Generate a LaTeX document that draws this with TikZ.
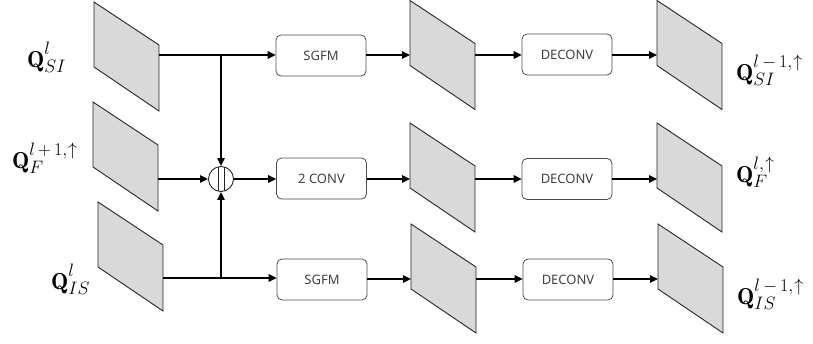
\RequirePackage{fix-cm}
\documentclass[tikz,border=0pt]{standalone}
\usepackage{fontspec}
\usetikzlibrary{arrows.meta}
\newfontfamily\opfont{Noto Sans}
\definecolor{featgray}{HTML}{D9D9D9}
\DeclareMathSizes{23}{23}{18}{13}

% slanted feature map: name, left x, top y, row of the connectors
\newcommand\featmap[4]{%
  \draw[feat] (#2,#3) -- (#2+65,#3+43) -- (#2+65,#3+109) -- (#2,#3+65) -- cycle;
  \coordinate (#1w) at (#2,#4);
  \coordinate (#1e) at (#2+65,#4);
}
% bold Q with raised superscript and subscript
\newcommand\qmap[2]{$\mathbf{Q}^{\raisebox{4.5pt}{$\scriptstyle #1$}}_{#2}$}

\tikzset{
  feat/.style={fill=featgray, draw=black!85, line width=0.9pt},
  opbox/.style={draw=black!70, rounded corners=5pt, minimum width=90pt,
    minimum height=41pt, inner sep=0pt, text=black!75, line width=0.8pt,
    font={\opfont\fontsize{13}{15}\selectfont}},
  flow/.style={-{Triangle[length=8pt,width=7.5pt]}, line width=1.5pt},
  qlab/.style={anchor=base west, inner sep=0pt, font={\fontsize{23}{27}\selectfont}},
}

\begin{document}
\begin{tikzpicture}[x=1pt, y=-1pt]
\useasboundingbox (0,0) rectangle (813,343);

% feature maps
\featmap{L1}{94}{2}{55}
\featmap{L2}{93}{102}{179}
\featmap{L3}{98}{202}{278}
\featmap{M1}{410}{0.5}{55}
\featmap{M2}{410}{123}{179}
\featmap{M3}{411}{224}{279}
\featmap{R1}{657}{0.5}{55}
\featmap{R2}{657}{123}{179}
\featmap{R3}{658}{224}{279}

% operation boxes
\node[opbox] (sg1) at (321,55.5) {SGFM};
\node[opbox] (conv) at (321.5,178.5) {2 CONV};
\node[opbox] (sg3) at (322,279.5) {SGFM};
\node[opbox] (dc1) at (567,54.5) {DECONV};
\node[opbox] (dc2) at (567,179) {DECONV};
\node[opbox] (dc3) at (568,279.5) {DECONV};

% concatenation
\node[circle, draw=black!85, line width=0.9pt, minimum size=25pt, inner sep=0pt] (cat) at (221,179) {};
\draw[line width=0.9pt, black!85] ([xshift=-3pt,yshift=12.1pt]cat.center) -- ([xshift=-3pt,yshift=-12.1pt]cat.center);
\draw[line width=0.9pt, black!85] ([xshift=3pt,yshift=12.1pt]cat.center) -- ([xshift=3pt,yshift=-12.1pt]cat.center);

\coordinate (j1) at (221,55);
\coordinate (j3) at (221,278);

% connectors
\draw[flow] (L1e) -- (L1e -| sg1.west);
\draw[flow] (L3e) -- (L3e -| sg3.west);
\draw[flow] (j1) -- (cat.north);
\draw[flow] (j3) -- (cat.south);
\draw[flow] (L2e) -- (cat.west);
\draw[flow] (cat.east) -- (cat.east -| conv.west);

\draw[flow] (sg1.east |- M1w) -- (M1w);
\draw[flow] (conv.east |- M2w) -- (M2w);
\draw[flow] (sg3.east |- M3w) -- (M3w);

\draw[flow] (M1e) -- (M1e -| dc1.west);
\draw[flow] (M2e) -- (M2e -| dc2.west);
\draw[flow] (M3e) -- (M3e -| dc3.west);

\draw[flow] (dc1.east |- R1w) -- (R1w);
\draw[flow] (dc2.east |- R2w) -- (R2w);
\draw[flow] (dc3.east |- R3w) -- (R3w);

% labels
\node[qlab] (q1) at (27,67) {\qmap{l}{SI}};
\node[qlab] (q2) at (12,168) {\qmap{l\mkern3mu+\mkern3mu1,\mkern1mu\uparrow}{F}};
\node[qlab] (q3) at (51,289) {\qmap{l}{IS}};
\node[qlab] (q4) at (736,80) {\qmap{l\mkern3mu-\mkern3mu1,\mkern1mu\uparrow}{SI}};
\node[qlab] (q5) at (736,182) {\qmap{l,\mkern1mu\uparrow}{F}};
\node[qlab] (q6) at (737,304) {\qmap{l\mkern3mu-\mkern3mu1,\mkern1mu\uparrow}{IS}};
\end{tikzpicture}
\end{document}
